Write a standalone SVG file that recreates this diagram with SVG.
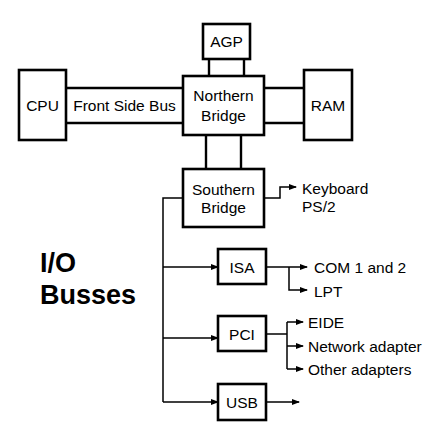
<svg xmlns="http://www.w3.org/2000/svg" width="445" height="445" viewBox="0 0 445 445">
<style>
.box{fill:#fff;stroke:#000;stroke-width:2.6}
.bus{stroke:#000;stroke-width:2.4;fill:none}
.ln{stroke:#000;stroke-width:1.5;fill:none}
text{font-family:"Liberation Sans",Arial,sans-serif;font-size:15.5px;fill:#000}
.c{text-anchor:middle}
.big{font-weight:bold;font-size:27px}
</style>
<defs>
<marker id="ah" markerWidth="8" markerHeight="6" refX="7" refY="3" orient="auto" markerUnits="userSpaceOnUse">
<path d="M0,0 L8,3 L0,6 Z" fill="#000"/>
</marker>
</defs>
<rect width="445" height="445" fill="#fff"/>
<g id="connectors">
<line class="bus" x1="66" y1="88" x2="183" y2="88"/>
<line class="bus" x1="66" y1="123" x2="183" y2="123"/>
<line class="bus" x1="264" y1="88" x2="304" y2="88"/>
<line class="bus" x1="264" y1="123" x2="304" y2="123"/>
<line class="bus" x1="209" y1="59" x2="209" y2="76"/>
<line class="bus" x1="244" y1="59" x2="244" y2="76"/>
<line class="bus" x1="206" y1="135" x2="206" y2="169"/>
<line class="bus" x1="241" y1="135" x2="241" y2="169"/>
<polyline class="ln" points="183,198 163,198 163,402"/>
<line class="ln" x1="163" y1="267" x2="218" y2="267" marker-end="url(#ah)"/>
<line class="ln" x1="163" y1="338" x2="218" y2="338" marker-end="url(#ah)"/>
<line class="ln" x1="163" y1="402" x2="218" y2="402" marker-end="url(#ah)"/>
<polyline class="ln" points="264,198 280,198 280,187 296,187" marker-end="url(#ah)"/>
<line class="ln" x1="266" y1="267" x2="307" y2="267" marker-end="url(#ah)"/>
<polyline class="ln" points="289,267 289,290 307,290" marker-end="url(#ah)"/>
<line class="ln" x1="266" y1="334" x2="287" y2="334"/>
<polyline class="ln" points="287,322 303,322" marker-end="url(#ah)"/>
<line class="ln" x1="287" y1="322" x2="287" y2="369"/>
<polyline class="ln" points="287,346 303,346" marker-end="url(#ah)"/>
<polyline class="ln" points="287,369 303,369" marker-end="url(#ah)"/>
<line class="ln" x1="266" y1="402" x2="299" y2="402" marker-end="url(#ah)"/>
</g>
<g id="agp"><rect class="box" x="203" y="24" width="47" height="35"/><text class="c" x="226.5" y="47">AGP</text></g>
<g id="cpu"><rect class="box" x="19" y="70" width="47" height="70"/><text class="c" x="42.5" y="111">CPU</text></g>
<g id="fsb-label"><text class="c" x="124.5" y="111">Front Side Bus</text></g>
<g id="northern"><rect class="box" x="183" y="76" width="81" height="59"/><text class="c" x="223.5" y="101">Northern</text><text class="c" x="223.5" y="121">Bridge</text></g>
<g id="ram"><rect class="box" x="304" y="70" width="48" height="70"/><text class="c" x="328" y="111">RAM</text></g>
<g id="southern"><rect class="box" x="183" y="169" width="81" height="58"/><text class="c" x="223.5" y="195">Southern</text><text class="c" x="223.5" y="213">Bridge</text></g>
<g id="keyboard"><text x="302" y="194">Keyboard</text><text x="302" y="212">PS/2</text></g>
<g id="io-label"><text class="big" x="40" y="272">I/O</text><text class="big" x="40" y="304">Busses</text></g>
<g id="isa"><rect class="box" x="218" y="249" width="48" height="35"/><text class="c" x="242" y="273">ISA</text></g>
<g id="com"><text x="314" y="273">COM 1 and 2</text></g>
<g id="lpt"><text x="314" y="297">LPT</text></g>
<g id="pci"><rect class="box" x="218" y="316" width="48" height="35"/><text class="c" x="242" y="340">PCI</text></g>
<g id="eide"><text x="308" y="328">EIDE</text></g>
<g id="network"><text x="308" y="352">Network adapter</text></g>
<g id="other"><text x="308" y="375">Other adapters</text></g>
<g id="usb"><rect class="box" x="218" y="384" width="48" height="36"/><text class="c" x="242" y="408">USB</text></g>
</svg>
